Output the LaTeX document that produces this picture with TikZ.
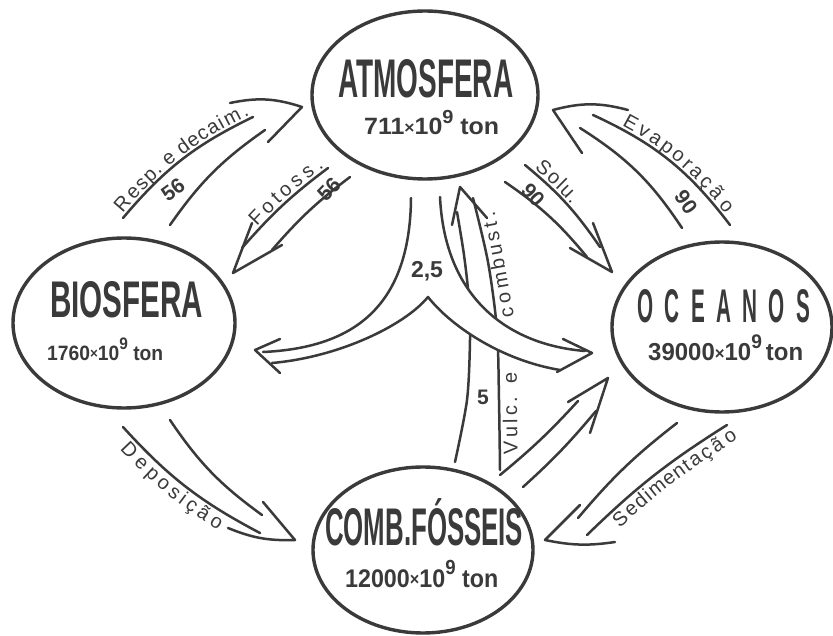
\documentclass[tikz,border=0pt]{standalone}
\usepackage{fontspec}
\usepackage{graphicx}
\setmainfont{Liberation Sans}
\usetikzlibrary{shapes.geometric}
\definecolor{ink}{RGB}{58,58,58}
\newcommand\tenp{10\raisebox{0.5em}{\scalebox{0.8}{9}}}
\newcommand\mul{\raisebox{0.06em}{\scalebox{0.7}{×}}}
% letters placed one by one along a curve: start, to-options, end, anchor, list of pos/letter
\newcommand\curvetext[5]{%
  \foreach \p/\ltr in {#5} {%
    \pgfmathsetmacro\pa{\p-0.02}%
    \pgfmathsetmacro\pb{\p+0.02}%
    \path (#1) to[#2] coordinate[pos=\pa] (ta) coordinate[pos=\p] (tm) coordinate[pos=\pb] (tb) (#3);
    \pgfmathanglebetweenpoints{\pgfpointanchor{ta}{center}}{\pgfpointanchor{tb}{center}}%
    \let\ang\pgfmathresult
    \node[ch,#4,rotate=\ang] at (tm) {\ltr};}}
\begin{document}
\begin{tikzpicture}[x=1pt,y=-1pt,
  blob/.style={draw=ink, line width=3.4pt, ellipse, inner sep=0pt},
  ln/.style={draw=ink, line width=2.5pt, line cap=round, line join=round},
  ttl/.style={inner sep=0pt, anchor=base west, text=ink, font=\bfseries},
  amt/.style={inner sep=0pt, anchor=base west, text=ink, font=\bfseries},
  num/.style={inner sep=0pt, text=ink, font=\bfseries\fontsize{21}{24}\selectfont},
  ch/.style={inner xsep=0pt, inner ysep=3pt, text=ink,
     font=\fontsize{20}{22}\selectfont, text height=14.5pt, text depth=0pt}
]
\useasboundingbox (0,0) rectangle (833,636);
\fill[white] (0,0) rectangle (833,636);

% reservoirs
\node[blob, minimum width=226pt, minimum height=168pt] (atm) at (425,95) {};
\node[blob, minimum width=222pt, minimum height=170pt] (bio) at (124,323) {};
\node[blob, minimum width=220pt, minimum height=170pt] (oce) at (722,327) {};
\node[blob, minimum width=220pt, minimum height=166pt] (foss) at (423,550) {};

\node[ttl] (atmT) at (338,98) {\resizebox{175pt}{38pt}{ATMOSFERA}};
\node[amt] (atmQ) at (364,135) {\resizebox{135pt}{25pt}{711\mul\tenp\ ton}};
\node[ttl] (bioT) at (50,318) {\resizebox{153pt}{36pt}{BIOSFERA}};
\node[amt] (bioQ) at (47,360) {\resizebox{116pt}{22pt}{1760\mul\tenp\ ton}};
\node[ttl] (oceT) at (637,323) {\resizebox{173pt}{33pt}{O\hspace{0.55em}C\hspace{0.55em}E\hspace{0.55em}A\hspace{0.55em}N\hspace{0.55em}O\hspace{0.55em}S}};
\node[amt] (oceQ) at (648,361) {\resizebox{155pt}{26pt}{39000\mul\tenp\,ton}};
\node[ttl] (fosT) at (325,545) {\resizebox{198pt}{37pt}{COMB.F\smash{Ó}SSEIS}};
\node[amt] (fosQ) at (345,587) {\resizebox{153pt}{27pt}{12000\mul\tenp\ ton}};

% A: respiration and decay (biosphere -> atmosphere)
\coordinate (A1) at (123,218); \coordinate (A2) at (253,117);
\coordinate (A3) at (170,225); \coordinate (A4) at (265,130);
\coordinate (Ab) at (230,103); \coordinate (At) at (302,107); \coordinate (Ac) at (268,142);
\draw[ln] (A1) to[bend left=12] (A2);
\draw[ln] (A3) to[bend left=10] (A4);
\draw[ln] (Ab) to[bend left=15] (At) -- (Ac);
\curvetext{A1}{bend left=12}{A2}{anchor=south}{0.056/R,0.140/e,0.212/s,0.283/p,0.341/.,0.441/e,0.557/d,0.632/e,0.703/c,0.775/a,0.829/i,0.901/m,0.975/.}
\node[num, rotate=36] (A56) at (173,190) {56};

% B: photosynthesis (atmosphere -> biosphere)
\coordinate (B1) at (242,248); \coordinate (B2) at (328,168);
\coordinate (B3) at (272,250); \coordinate (B4) at (350,177);
\coordinate (Bb) at (252,223); \coordinate (Bt) at (233,273); \coordinate (Bc) at (282,245);
\draw[ln] (B1) to[bend left=6] (B2);
\draw[ln] (B3) to[bend left=6] (B4);
\draw[ln] (Bb) -- (Bt) -- (Bc);
\curvetext{B1}{bend left=6}{B2}{anchor=south}{0.255/F,0.392/o,0.501/t,0.610/o,0.737/s,0.860/s,0.964/.}
\node[num, rotate=46] (B56) at (329,189) {56};

% C: solution (atmosphere -> oceans)
\coordinate (C1) at (525,165); \coordinate (C2) at (600,247);
\coordinate (C3) at (505,182); \coordinate (C4) at (587,257);
\coordinate (Cb) at (593,223); \coordinate (Ct) at (612,272); \coordinate (Cc) at (570,248);
\draw[ln] (C1) to[bend left=8] (C2);
\draw[ln] (C3) to[bend left=8] (C4);
\draw[ln] (Cb) -- (Ct) -- (Cc);
\curvetext{C1}{bend left=8}{C2}{anchor=south}{0.131/S,0.256/o,0.342/l,0.427/u,0.518/.}
\node[num, rotate=-48] (C90) at (533,195) {90};

% D: evaporation (oceans -> atmosphere)
\coordinate (D1) at (593,115); \coordinate (D2) at (730,225);
\coordinate (D3) at (580,128); \coordinate (D4) at (682,228);
\coordinate (Db) at (628,110); \coordinate (Dt) at (553,110); \coordinate (Dc) at (582,153);
\draw[ln] (D1) to[bend left=14] (D2);
\draw[ln] (D3) to[bend left=12] (D4);
\draw[ln] (Db) to[bend right=15] (Dt) -- (Dc);
\curvetext{D1}{bend left=14}{D2}{anchor=south}{0.193/E,0.279/v,0.359/a,0.443/p,0.526/o,0.597/r,0.668/a,0.749/ç,0.829/ã,0.913/o}
\node[num, rotate=-55] (D90) at (686,202) {90};

% E: deposition (biosphere -> fossil fuels)
\coordinate (E1) at (123,427); \coordinate (E2) at (260,533);
\coordinate (E3) at (170,420); \coordinate (E4) at (262,515);
\coordinate (Eb) at (228,528); \coordinate (Et) at (295,540); \coordinate (Ec) at (263,502);
\draw[ln] (E1) to[bend right=10] (E2);
\draw[ln] (E3) to[bend right=10] (E4);
\draw[ln] (Eb) to[bend right=12] (Et) -- (Ec);
\curvetext{E1}{bend right=10}{E2}{anchor=north}{0.109/D,0.206/e,0.294/p,0.381/o,0.466/s,0.531/i,0.597/ç,0.681/ã,0.769/o}

% F: sedimentation (oceans -> fossil fuels)
\coordinate (F1) at (587,535); \coordinate (F2) at (727,425);
\coordinate (F3) at (578,518); \coordinate (F4) at (677,423);
\coordinate (Fb) at (580,505); \coordinate (Ft) at (545,540); \coordinate (Fc) at (615,542);
\draw[ln] (F1) to[bend left=6] (F2);
\draw[ln] (F3) to[bend left=6] (F4);
\draw[ln] (Fb) -- (Ft) to[bend right=10] (Fc);
\curvetext{F1}{bend left=6}{F2}{anchor=north}{0.183/S,0.265/e,0.341/d,0.398/i,0.471/m,0.563/e,0.639/n,0.699/t,0.760/a,0.833/ç,0.906/ã,0.982/o}

% G: fossil fuels -> oceans
\coordinate (G1) at (500,475); \coordinate (G2) at (578,401);
\coordinate (G3) at (523,487); \coordinate (G4) at (596,411);
\coordinate (Gb) at (568,402); \coordinate (Gt) at (608,378); \coordinate (Gc) at (590,433);
\draw[ln] (G1) to[bend right=4] (G2);
\draw[ln] (G3) to[bend right=4] (G4);
\draw[ln] (Gb) -- (Gt) -- (Gc);

% I: volcanism and combustion (fossil fuels -> atmosphere)
\coordinate (Ib) at (452,225); \coordinate (It) at (460,187); \coordinate (Ic) at (487,218);
\coordinate (Ia) at (500,456); \coordinate (Ie) at (499,372);
\coordinate (Ig) at (497,322); \coordinate (Ih) at (477,212);
\draw[ln] plot[smooth] coordinates {(457,212) (464,255) (469,300) (470,340) (467,400) (455,462)};
\draw[ln] plot[smooth] coordinates {(473,198) (488,262) (497,330) (499,400) (500,470)};
\draw[ln] (Ib) -- (It) -- (Ic);
\curvetext{Ig}{bend left=0}{Ih}{anchor=north}{0.054/c,0.184/o,0.345/m,0.506/b,0.642/u,0.773/s,0.879/t,0.965/.}
\curvetext{Ia}{bend left=0}{Ie}{anchor=north}{0.079/V,0.270/u,0.408/l,0.539/c,0.677/.,0.933/e}
\node[num] (I5) at (483,397) {5};

% H: 2,5 (atmosphere -> biosphere and oceans)
\fill[white] (440,197) .. controls (445,300) and (510,345) .. (585,351) -- (560,370)
   .. controls (500,360) and (450,325) .. (428,297) -- cycle;
\coordinate (Hl) at (411,198); \coordinate (Hr) at (440,197); \coordinate (Hap) at (428,297);
\coordinate (HtL) at (255,350); \coordinate (HtR) at (592,353);
\draw[ln] (Hl) .. controls (410,310) and (350,348) .. (263,352);
\draw[ln] (Hr) .. controls (445,300) and (510,345) .. (585,351);
\draw[ln] (272,363) .. controls (340,357) and (405,325) .. (Hap) .. controls (450,325) and (500,360) .. (560,370);
\draw[ln] (280,339) -- (HtL) -- (280,373);
\draw[ln] (563,339) -- (HtR) -- (557,372);
\node[num, font=\bfseries\fontsize{23}{26}\selectfont] (H25) at (427,271) {2,5};
\end{tikzpicture}
\end{document}
